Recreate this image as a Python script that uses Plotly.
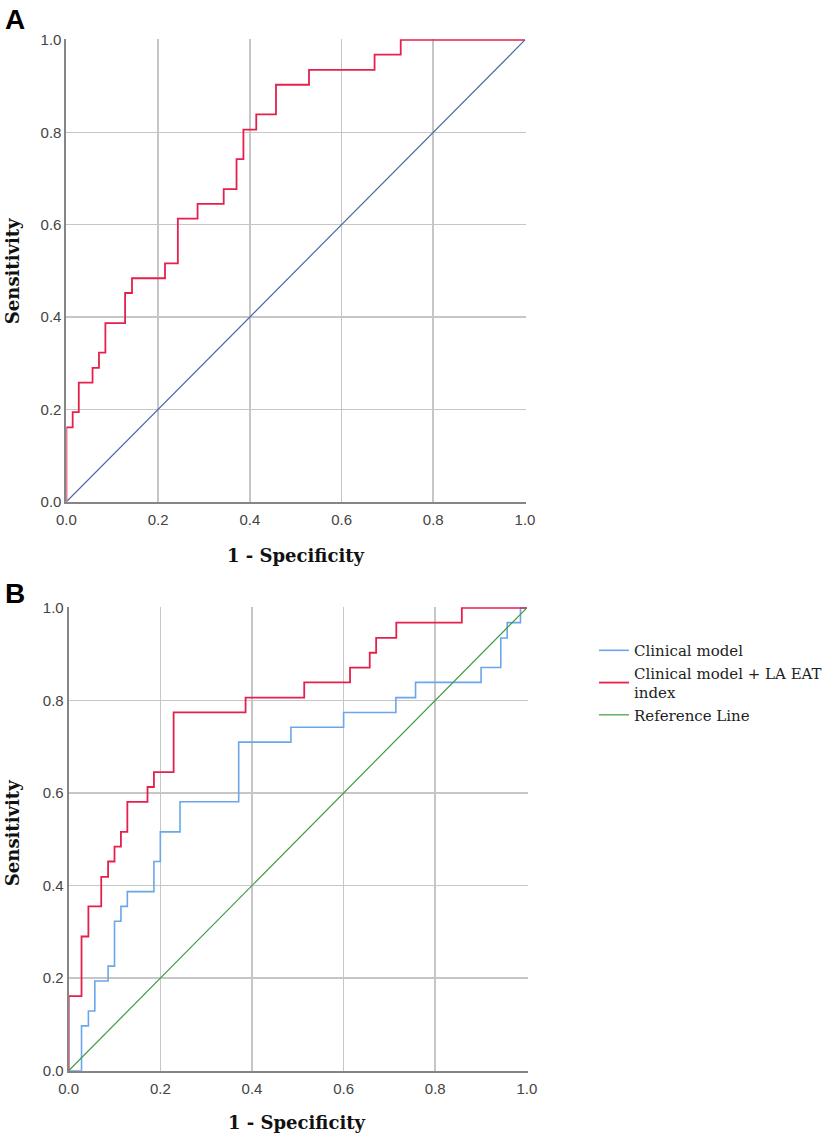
import plotly.graph_objects as go

# ---------------- data ----------------
tick_vals = [0.0, 0.2, 0.4, 0.6, 0.8, 1.0]
tick_text = ["0.0", "0.2", "0.4", "0.6", "0.8", "1.0"]

# Panel A: ROC of LA EAT model
a_fpr = [0.0, 0.0, 0.0137, 0.027, 0.057, 0.071, 0.085, 0.128, 0.143, 0.215, 0.243,
         0.286, 0.343, 0.371, 0.386, 0.414, 0.457, 0.529, 0.672, 0.729, 1.0]
a_sens = [0.0, 0.161, 0.194, 0.258, 0.290, 0.323, 0.387, 0.452, 0.484, 0.516, 0.613,
          0.645, 0.677, 0.742, 0.806, 0.839, 0.903, 0.935, 0.968, 1.0, 1.0]

# Panel B: clinical model + LA EAT index
b_red_fpr = [0.0, 0.0, 0.028, 0.043, 0.071, 0.086, 0.100, 0.114, 0.128, 0.172, 0.186,
             0.229, 0.386, 0.514, 0.614, 0.657, 0.671, 0.715, 0.858, 1.0]
b_red_sens = [0.0, 0.161, 0.290, 0.355, 0.419, 0.452, 0.484, 0.516, 0.581, 0.613, 0.645,
              0.774, 0.806, 0.839, 0.871, 0.903, 0.935, 0.968, 1.0, 1.0]

# Panel B: clinical model
b_blue_fpr = [0.0, 0.028, 0.043, 0.057, 0.086, 0.100, 0.114, 0.128, 0.186, 0.200, 0.243,
              0.371, 0.485, 0.600, 0.714, 0.757, 0.900, 0.943, 0.957, 0.986, 1.0]
b_blue_sens = [0.0, 0.097, 0.129, 0.194, 0.226, 0.323, 0.355, 0.387, 0.452, 0.516, 0.581,
               0.710, 0.742, 0.774, 0.806, 0.839, 0.871, 0.935, 0.968, 1.0, 1.0]

ref_x = [0.0, 1.0]
ref_y = [0.0, 1.0]

legend_names = ["Clinical model", "Clinical model + LA EAT<br>index", "Reference Line"]

# ---------------- style ----------------
RED = "#e5204c"
BLUE = "#69a6ea"
DIAG_A = "#4a66a8"
GREEN = "#3f9a3f"
W, H = 827, 1138

fig = go.Figure()

fig.add_trace(go.Scatter(x=a_fpr, y=a_sens, mode="lines", line=dict(color=RED, width=1.8, shape="hv"),
                         xaxis="x", yaxis="y", showlegend=False, hoverinfo="skip"))
fig.add_trace(go.Scatter(x=ref_x, y=ref_y, mode="lines", line=dict(color=DIAG_A, width=1.2),
                         xaxis="x", yaxis="y", showlegend=False, hoverinfo="skip"))

fig.add_trace(go.Scatter(x=b_blue_fpr, y=b_blue_sens, mode="lines", name=legend_names[0],
                         line=dict(color=BLUE, width=1.6, shape="hv"), xaxis="x2", yaxis="y2"))
fig.add_trace(go.Scatter(x=b_red_fpr, y=b_red_sens, mode="lines", name=legend_names[1],
                         line=dict(color=RED, width=1.8, shape="hv"), xaxis="x2", yaxis="y2"))
fig.add_trace(go.Scatter(x=ref_x, y=ref_y, mode="lines", name=legend_names[2],
                         line=dict(color=GREEN, width=1.2), xaxis="x2", yaxis="y2"))

axis_common = dict(range=[0, 1.0015], tickvals=tick_vals, ticktext=tick_text,
                   showgrid=True, gridcolor="#c6c6c6", gridwidth=1.6,
                   showline=True, linecolor="#858585", linewidth=2,
                   zeroline=False, ticks="", fixedrange=True,
                   tickfont=dict(family="Liberation Sans, Arial", size=15, color="#444444"))

fig.update_layout(
    width=W, height=H,
    margin=dict(l=0, r=0, t=0, b=0),
    paper_bgcolor="white", plot_bgcolor="white",
    xaxis=dict(domain=[59.2 / W, 541.2 / W], anchor="y", ticklabelstandoff=3, **axis_common),
    yaxis=dict(domain=[1 - 500.8 / H, 1 - 31.7 / H], anchor="x", **axis_common),
    xaxis2=dict(domain=[61.6 / W, 543.2 / W], anchor="y2", ticklabelstandoff=3, **axis_common),
    yaxis2=dict(domain=[1 - 1077.9 / H, 1 - 607.7 / H], anchor="x2", **axis_common),
    legend=dict(x=613 / W, y=1 - 635 / H, xanchor="left", yanchor="top",
                font=dict(family="DejaVu Serif", size=15, color="#222222"),
                itemwidth=30, tracegroupgap=0, bgcolor="rgba(0,0,0,0)"),
)

title_font = dict(family="DejaVu Serif", size=18, color="#111111")
panel_font = dict(family="Liberation Sans, Arial", size=28, color="black")
ann = [
    dict(text="<b>A</b>", x=-7 / W, y=1 + 6 / H, xanchor="left", yanchor="top", font=panel_font),
    dict(text="<b>B</b>", x=-7 / W, y=1 - 576 / H, xanchor="left", yanchor="top", font=panel_font),
    dict(text="<b>1 - Specificity</b>", x=300 / W, y=1 - 555 / H, xanchor="center", yanchor="middle",
         font=title_font),
    dict(text="<b>1 - Specificity</b>", x=301 / W, y=1 - 1130 / H, xanchor="center", yanchor="middle",
         font=title_font),
    dict(text="<b>Sensitivity</b>", x=2 / W, y=1 - 267 / H, xanchor="center", yanchor="middle",
         textangle=-90, font=title_font),
    dict(text="<b>Sensitivity</b>", x=2 / W, y=1 - 837 / H, xanchor="center", yanchor="middle",
         textangle=-90, font=title_font),
]
for a in ann:
    a.update(xref="paper", yref="paper", showarrow=False)
fig.update_layout(annotations=ann)

fig.write_html(
    "out.html",
    config={"displayModeBar": False, "staticPlot": True},
    post_script="document.documentElement.style.margin='0';document.body.style.margin='0';"
                "document.body.style.padding='0';document.body.style.overflow='hidden';",
)
